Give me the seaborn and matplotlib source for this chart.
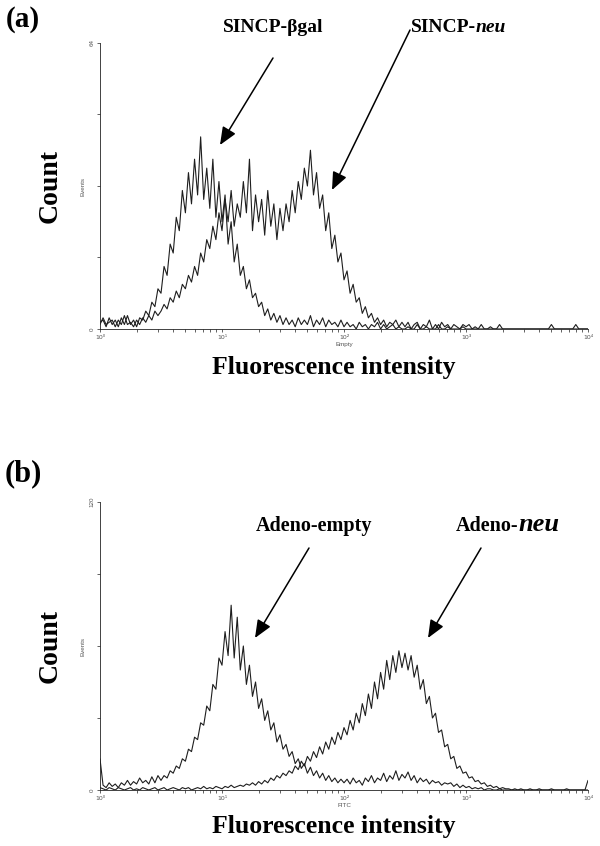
import numpy as np
import pandas as pd
import matplotlib
matplotlib.use("Agg")
import matplotlib.pyplot as plt
import seaborn as sns
from matplotlib.patches import FancyArrowPatch, ArrowStyle
from matplotlib.ticker import FixedLocator, LogLocator, NullFormatter

# ---------------- data (counts per log channel, 40 channels per decade) ----------------
channels = list(range(161))          # channel index; intensity = 10 ** (channel / 40)
x_tick_vals = [1, 10, 100, 1000, 10000]
x_tick_labels = ["10\u2070", "10\u00b9", "10\u00b2", "10\u00b3", "10\u2074"]

# panel (a)
a_bgal = [1.5, 2, 0.5, 2.5, 1, 2, 0.5, 2.5, 1, 3, 1, 2, 0.5, 2.5, 2, 4, 3, 6, 5, 9,
          8, 14, 12, 19, 17, 25, 22, 31, 26, 35, 28, 38, 30, 43, 29, 36, 27, 38, 25, 33,
          24, 30, 19, 24, 15, 19, 12, 14, 9, 11, 7, 8, 5, 6, 3, 4.5, 2, 3.5, 1.5, 3,
          1, 2.5, 1, 2, 0.5, 2.5, 1, 2, 1, 3, 0.5, 2, 1, 2.5, 0.5, 2, 1, 1.5, 0.5, 2,
          0.5, 1.5, 0.5, 1, 0, 1.5, 0.5, 1, 0, 1, 0.5, 1.5, 0, 1, 0, 0.5, 1, 0, 0.5, 0,
          0, 0.5, 0, 0, 1, 0, 0, 0.5, 0, 0, 0, 1, 0, 0, 0.5, 0, 0, 0, 0, 0.5,
          0, 0, 0, 0, 0, 0, 0, 0, 0, 0, 0, 0, 0, 0, 0, 0, 0, 0, 0, 0,
          0, 0, 0, 0, 0, 0, 0, 0, 0, 0, 0, 0, 0, 0, 0, 0, 0, 0, 0, 0,
          0]
a_neu = [1, 2.5, 1, 1.5, 2, 0.5, 2, 1, 3, 1, 1.5, 0.5, 2, 1, 2.5, 1.5, 3, 2, 4, 3,
         4, 5.5, 4.5, 7, 6, 8.5, 7, 10, 9, 12, 10.5, 14, 12, 17, 15, 20, 18, 23, 20, 26,
         22, 29, 24, 31, 23, 28, 25, 33, 26, 38, 22, 30, 24, 29, 21, 31, 23, 28, 20, 27,
         22, 28, 24, 31, 26, 33, 29, 36, 32, 40, 30, 35, 27, 30, 22, 26, 18, 21, 15, 17,
         11, 13, 8, 10, 6, 7, 3.5, 5, 2.5, 3.5, 1.5, 2.5, 1, 2, 0.5, 1.5, 1, 2, 0.5, 1.5,
         0.5, 1.5, 0, 1, 1.5, 0, 1, 0.5, 2, 0, 1, 0, 1.5, 0.5, 1, 0, 1, 0.5, 0, 1,
         0.5, 1, 0, 0.5, 0, 1, 0, 0, 0.5, 0, 0, 1, 0, 0, 0, 0, 0, 0, 0, 0,
         0, 0, 0, 0, 0, 0, 0, 0, 1, 0, 0, 0, 0, 0, 0, 0, 1, 0, 0, 0,
         0]

# panel (b)
b_empty = [13, 2, 1, 3, 1.5, 2.5, 1, 3, 2, 4, 2, 3.5, 2.5, 5, 3, 4, 2.5, 5.5, 3, 6,
           4, 6, 5, 8, 7, 10, 9, 13, 12, 17, 16, 22, 21, 28, 27, 35, 33, 44, 42, 55,
           52, 66, 56, 77, 55, 72, 50, 60, 44, 52, 39, 45, 34, 38, 29, 33, 25, 28, 20, 23,
           17, 19, 14, 16, 11, 13, 9, 11, 7, 9.5, 6, 8, 5, 7, 4, 6, 3.5, 5, 3, 4.5,
           3, 4.5, 2.5, 5, 3, 4, 2, 5, 3.5, 6, 3, 5, 4, 7, 3.5, 6, 4.5, 8, 4, 6.5,
           5, 7.5, 4, 6, 3, 5, 3.5, 4.5, 2.5, 4, 3, 3.5, 2, 3, 2.5, 3, 1.5, 2.5, 1, 2,
           1, 1.5, 0.5, 1, 0.5, 1, 0, 0.5, 0.5, 0, 0, 0.5, 0, 0, 0, 0, 0, 0, 0, 0,
           0, 0, 0, 0, 0, 0, 0, 0, 0, 0, 0, 0, 0, 0, 0, 0, 0, 0, 0, 0,
           0]
b_neu = [1, 0.5, 0, 1, 0.5, 0, 1, 0.5, 0, 0.5, 1, 0, 0.5, 0, 1, 0.5, 0, 0.5, 1, 0,
         0.5, 1, 0, 0.5, 1, 0.5, 0, 1, 0.5, 1, 0, 0.5, 1, 0.5, 1.5, 0.5, 1, 0.5, 1.5, 1,
         0.5, 1.5, 1, 2, 1, 1.5, 2, 1.5, 2.5, 2, 3, 2, 3.5, 2.5, 4, 3, 5, 4, 6, 5,
         7, 6, 8, 7, 10, 8.5, 12, 10, 14, 12, 16, 13.5, 18, 15, 20, 17, 22, 19, 24, 21,
         26, 23, 29, 25, 32, 28, 36, 31, 40, 34, 45, 38, 49, 42, 54, 46, 56, 49, 58, 51,
         57, 50, 56, 47, 52, 42, 46, 36, 39, 30, 32, 24, 25, 18, 19, 13, 14, 9, 10, 7,
         7.5, 5, 5.5, 3.5, 4, 2.5, 3, 1.5, 2, 1, 1.5, 0.5, 1, 0.5, 0.5, 0, 0.5, 0, 0.5, 0,
         0, 0.5, 0, 0, 0.5, 0, 0, 0, 0.5, 0, 0, 0, 0, 0.5, 0, 0, 0, 0, 0, 0,
         4]

# ---------------- figure ----------------
sns.set_style("ticks")
plt.rcParams["font.family"] = ["Liberation Sans", "DejaVu Sans"]

W, H = 600, 846
fig = plt.figure(figsize=(W / 100, H / 100), dpi=100)
fig.patch.set_facecolor("white")


def fx(px):
    return px / W


def fy(py):
    return 1 - py / H


def make_axes(top, bottom):
    return fig.add_axes([fx(100), fy(bottom), fx(588) - fx(100), fy(top) - fy(bottom)])


def style_axes(ax, yticks, xname):
    ax.set_xscale("log")
    ax.set_xlim(1, 1e4)
    ax.set_ylim(0, yticks[-1])
    sns.despine(ax=ax)
    for s in ("left", "bottom"):
        ax.spines[s].set_linewidth(0.6)
        ax.spines[s].set_color("#222222")
    ax.yaxis.set_major_locator(FixedLocator(yticks))
    ax.set_yticklabels([str(yticks[0])] + [""] * (len(yticks) - 2) + [str(yticks[-1])],
                       rotation=90, va="center", fontsize=4.5, color="#555555")
    ax.xaxis.set_major_locator(FixedLocator(x_tick_vals))
    ax.set_xticklabels(x_tick_labels, fontsize=4.5, color="#555555",
                       family=["DejaVu Sans"])
    ax.xaxis.set_minor_locator(LogLocator(base=10, subs=range(2, 10), numticks=50))
    ax.xaxis.set_minor_formatter(NullFormatter())
    ax.tick_params(which="both", length=2.5, width=0.5, pad=1.5, color="#222222")
    ax.set_xlabel(xname, fontsize=4.5, labelpad=1.5, color="#555555")
    ax.set_ylabel("Events", fontsize=4.5, labelpad=3, color="#555555")
    ax.set_facecolor("white")


intensity = [10 ** (c / 40) for c in channels]
line_kw = dict(color="#1e1e1e", linewidth=0.8, estimator=None, sort=False, legend=False)

# panel (a)
ax_a = make_axes(43, 329)
df_a = pd.DataFrame({"x": intensity, "bgal": a_bgal, "neu": a_neu})
sns.lineplot(data=df_a, x="x", y="bgal", ax=ax_a, **line_kw)
sns.lineplot(data=df_a, x="x", y="neu", ax=ax_a, **line_kw)
style_axes(ax_a, [0, 16, 32, 48, 64], "Empty")

# panel (b)
ax_b = make_axes(502, 790)
df_b = pd.DataFrame({"x": intensity, "empty": b_empty, "neu": b_neu})
sns.lineplot(data=df_b, x="x", y="empty", ax=ax_b, **line_kw)
sns.lineplot(data=df_b, x="x", y="neu", ax=ax_b, **line_kw)
style_axes(ax_b, [0, 30, 60, 90, 120], "FITC")

serif_b = dict(family=["Liberation Serif", "DejaVu Serif"], weight="bold", color="black")
serif_bi = dict(family=["Liberation Serif", "DejaVu Serif"], weight="bold", style="italic",
                color="black")

# panel letters
fig.text(fx(6), fy(6), "(a)", fontsize=21, va="top", ha="left", **serif_b)
fig.text(fx(5), fy(459), "(b)", fontsize=22, va="top", ha="left", **serif_b)

# axis titles
for cy in (186, 646):
    fig.text(fx(50), fy(cy), "Count", fontsize=20, rotation=90, va="center", ha="center", **serif_b)
for base in (374, 833):
    fig.text(fx(334), fy(base), "Fluorescence intensity", fontsize=18.5,
             va="baseline", ha="center", **serif_b)

# annotations
fig.text(fx(273), fy(32), "SINCP-\u03b2gal", fontsize=14, va="baseline", ha="center", **serif_b)
fig.text(fx(476), fy(32), "SINCP-", fontsize=14, va="baseline", ha="right", **serif_b)
fig.text(fx(476), fy(32), "neu", fontsize=14, va="baseline", ha="left", **serif_bi)
fig.text(fx(314), fy(531), "Adeno-empty", fontsize=14.5, va="baseline", ha="center", **serif_b)
fig.text(fx(518), fy(531), "Adeno-", fontsize=14.5, va="baseline", ha="right", **serif_b)
fig.text(fx(518), fy(531), "neu", fontsize=19, va="baseline", ha="left", **serif_bi)

arrow_style = ArrowStyle("-|>", head_length=0.9, head_width=0.38)
for (x0, y0), (x1, y1) in [((273, 58), (220, 145)), ((410, 30), (332, 190)),
                           ((309, 548), (255, 638)), ((481, 548), (428, 638))]:
    fig.add_artist(FancyArrowPatch((fx(x0), fy(y0)), (fx(x1), fy(y1)),
                                   transform=fig.transFigure, arrowstyle=arrow_style,
                                   mutation_scale=12, linewidth=1.1, color="black",
                                   shrinkA=0, shrinkB=0))

fig.savefig("out.png", dpi=100, facecolor="white")
